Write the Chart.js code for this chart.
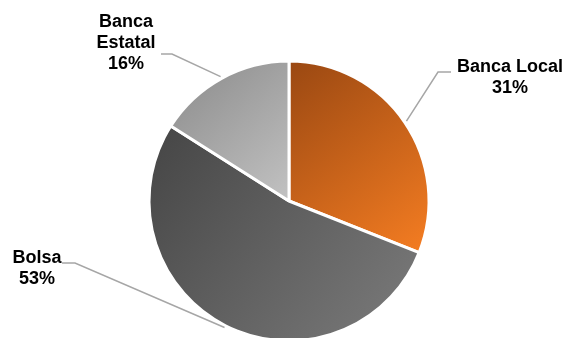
<!DOCTYPE html>
<html>
<head>
<meta charset="utf-8">
<script src="https://cdn.jsdelivr.net/npm/chart.js@4"></script>
<style>
    html, body { margin: 0; padding: 0; background: #fff; overflow: hidden; }
    #wrap { width: 566px; height: 346px; position: relative; }
</style>
</head>
<body>
<div id="wrap"><canvas id="chart-pie"></canvas></div>
<script>
const categories = ["Banca Local", "Bolsa", "Banca Estatal"];
const shares = [31, 53, 16];
const labelLines = [["Banca Local", "31%"], ["Bolsa", "53%"], ["Banca", "Estatal", "16%"]];

// gradient stops per slice (dark top-left -> light bottom-right)
const sliceColors = [
    ["#9a4812", "#f57d22"],
    ["#454545", "#7c7c7c"],
    ["#8a8a8a", "#c2c2c2"]
];

// where each label sits and where its leader line bends
const labelLayout = [
    { x: 510, y: 72, elbowX: 438, elbowY: 72, endX: 451 },
    { x: 37, y: 263, elbowX: 75, elbowY: 263, endX: 62 },
    { x: 126, y: 27, elbowX: 172, elbowY: 54, endX: 161 }
];

function sliceBox(chart, index) {
    const area = chart.chartArea;
    const cx = (area.left + area.right) / 2;
    const cy = (area.top + area.bottom) / 2;
    const r = 140;
    const total = shares.reduce((a, b) => a + b, 0);
    let start = -Math.PI / 2;
    for (let i = 0; i < index; i++) start += shares[i] / total * Math.PI * 2;
    const end = start + shares[index] / total * Math.PI * 2;
    const xs = [cx, cx + r * Math.cos(start), cx + r * Math.cos(end)];
    const ys = [cy, cy + r * Math.sin(start), cy + r * Math.sin(end)];
    for (let k = -4; k <= 8; k++) {
        const a = k * Math.PI / 2;
        if (a > start && a < end) {
            xs.push(cx + r * Math.cos(a));
            ys.push(cy + r * Math.sin(a));
        }
    }
    return { x0: Math.min(...xs), y0: Math.min(...ys), x1: Math.max(...xs), y1: Math.max(...ys) };
}

function sliceFill(context) {
    const chart = context.chart;
    if (!chart.chartArea) return sliceColors[context.dataIndex][1];
    const b = sliceBox(chart, context.dataIndex);
    const g = chart.ctx.createLinearGradient(b.x0, b.y0, b.x1, b.y1);
    g.addColorStop(0, sliceColors[context.dataIndex][0]);
    g.addColorStop(1, sliceColors[context.dataIndex][1]);
    return g;
}

const leaderLabels = {
    id: "leaderLabels",
    afterDatasetsDraw(chart) {
        const ctx = chart.ctx;
        const meta = chart.getDatasetMeta(0);
        meta.data.forEach((arc, i) => {
            const p = arc.getProps(["x", "y", "startAngle", "endAngle", "outerRadius"], true);
            const mid = (p.startAngle + p.endAngle) / 2;
            const r = p.outerRadius + 2;
            const lay = labelLayout[i];
            ctx.save();
            ctx.strokeStyle = "#a6a6a6";
            ctx.lineWidth = 1.5;
            ctx.beginPath();
            ctx.moveTo(p.x + r * Math.cos(mid), p.y + r * Math.sin(mid));
            ctx.lineTo(lay.elbowX, lay.elbowY);
            ctx.lineTo(lay.endX, lay.elbowY);
            ctx.stroke();
            ctx.fillStyle = "#000";
            ctx.font = "bold 18px 'Liberation Sans', Arial, sans-serif";
            ctx.textAlign = "center";
            ctx.textBaseline = "alphabetic";
            labelLines[i].forEach((t, k) => ctx.fillText(t, lay.x, lay.y + k * 21));
            ctx.restore();
        });
    }
};

new Chart(document.getElementById("chart-pie"), {
    type: "pie",
    data: {
        labels: categories,
        datasets: [{
            data: shares,
            backgroundColor: sliceFill,
            borderColor: "#ffffff",
            borderWidth: 3,
            radius: 140
        }]
    },
    options: {
        responsive: true,
        maintainAspectRatio: false,
        animation: false,
        layout: { padding: { left: 12, top: 61, bottom: 5, right: 0 } },
        plugins: {
            legend: { display: false },
            tooltip: { enabled: false }
        }
    },
    plugins: [leaderLabels]
});
</script>
</body>
</html>
